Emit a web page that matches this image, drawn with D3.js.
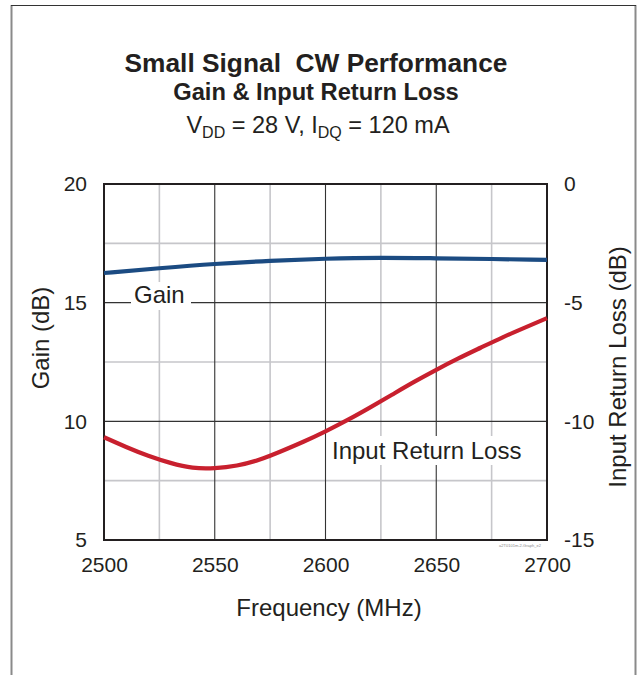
<!DOCTYPE html>
<html>
<head>
<meta charset="utf-8">
<script src="https://cdn.jsdelivr.net/npm/d3@7"></script>
<style>
  html, body { margin: 0; padding: 0; background: #fff; }
  svg { display: block; font-family: "Liberation Sans", Arial, sans-serif; }
</style>
</head>
<body>
<svg id="chart" width="639" height="675"></svg>
<script>
// Frequency sweep (MHz)
const gainFreq = [2500, 2525, 2550, 2575, 2600, 2625, 2650, 2675, 2700];
const gainDb   = [16.25, 16.45, 16.63, 16.76, 16.85, 16.89, 16.87, 16.84, 16.80];

const irlFreq = [2500, 2510, 2520, 2530, 2540, 2550, 2560, 2570, 2580, 2590, 2600,
                 2610, 2620, 2630, 2640, 2650, 2660, 2670, 2680, 2690, 2700];
const irlDb   = [-10.67, -11.08, -11.45, -11.75, -11.95, -11.97, -11.86, -11.62, -11.26, -10.86, -10.42,
                 -9.94, -9.42, -8.88, -8.34, -7.83, -7.35, -6.9, -6.46, -6.05, -5.65];

const xTicks = [2500, 2550, 2600, 2650, 2700];
const xMinor = [2525, 2575, 2625, 2675];
const gainTicks = [5, 10, 15, 20];
const gainMinor = [7.5, 12.5, 17.5];
const irlTicks = [0, -5, -10, -15];

const svg = d3.select("#chart");
const W = 639, H = 675;
const m = { left: 104, right: 547, top: 184, bottom: 540 };
const ink = "#231f20";

// Outer frame
svg.append("line").attr("x1", 11.5).attr("x2", 11.5).attr("y1", 5).attr("y2", H)
  .attr("stroke", "#8a8a8a").attr("stroke-width", 2);
svg.append("line").attr("x1", 635.5).attr("x2", 635.5).attr("y1", 5).attr("y2", H)
  .attr("stroke", "#8a8a8a").attr("stroke-width", 2);
svg.append("line").attr("x1", 11).attr("x2", 636).attr("y1", 5.5).attr("y2", 5.5)
  .attr("stroke", "#333").attr("stroke-width", 1);

const x = d3.scaleLinear().domain([2500, 2700]).range([m.left, m.right]);
const yG = d3.scaleLinear().domain([5, 20]).range([m.bottom, m.top]);
const yR = d3.scaleLinear().domain([-15, 0]).range([m.bottom, m.top]);

// Titles
const title = svg.append("g").attr("text-anchor", "middle").attr("fill", ink);
title.append("text").attr("x", 316).attr("y", 72)
  .style("white-space", "pre").attr("font-size", 26.3).attr("font-weight", "bold")
  .text("Small Signal  CW Performance");
title.append("text").attr("x", 316).attr("y", 100)
  .attr("font-size", 23.7).attr("font-weight", "bold")
  .text("Gain & Input Return Loss");
const t3 = title.append("text").attr("x", 318).attr("y", 133).attr("font-size", 23.5);
t3.append("tspan").text("V");
t3.append("tspan").attr("font-size", 16).attr("dy", 5).text("DD");
t3.append("tspan").attr("dy", -5).text(" = 28 V, I");
t3.append("tspan").attr("font-size", 16).attr("dy", 5).text("DQ");
t3.append("tspan").attr("dy", -5).text(" = 120 mA");

// Grid
const grid = svg.append("g");
grid.selectAll(".vmin").data(xMinor).join("line")
  .attr("x1", d => x(d)).attr("x2", d => x(d)).attr("y1", m.top).attr("y2", m.bottom)
  .attr("stroke", "#c6c6ca").attr("stroke-width", 1.6);
grid.selectAll(".hmin").data(gainMinor).join("line")
  .attr("x1", m.left).attr("x2", m.right).attr("y1", d => yG(d)).attr("y2", d => yG(d))
  .attr("stroke", "#c6c6ca").attr("stroke-width", 1.6);
grid.selectAll(".vmaj").data(xTicks.slice(1, -1)).join("line")
  .attr("x1", d => x(d)).attr("x2", d => x(d)).attr("y1", m.top).attr("y2", m.bottom)
  .attr("stroke", "#333").attr("stroke-width", 1.1);
grid.selectAll(".hmaj").data(gainTicks.slice(1, -1)).join("line")
  .attr("x1", m.left).attr("x2", m.right).attr("y1", d => yG(d)).attr("y2", d => yG(d))
  .attr("stroke", "#333").attr("stroke-width", 1.1);

// Series label backgrounds break the grid behind the text
const labelBg = svg.append("g").attr("fill", "#fff");
labelBg.append("rect").attr("x", 131).attr("y", 282).attr("width", 60).attr("height", 28);
labelBg.append("rect").attr("x", 329).attr("y", 436).attr("width", 197).attr("height", 29);

// Plot border
svg.append("rect").attr("x", m.left).attr("y", m.top)
  .attr("width", m.right - m.left).attr("height", m.bottom - m.top)
  .attr("fill", "none").attr("stroke", ink).attr("stroke-width", 2);

// Axes (labels only; the plot border draws the lines)
const axisFont = g => g.call(s => s.select(".domain").remove())
  .call(s => s.selectAll(".tick line").remove())
  .call(s => s.selectAll("text").attr("font-size", 21).attr("fill", ink)
    .attr("font-family", "Liberation Sans, Arial, sans-serif"));

svg.append("g").attr("transform", `translate(0,${m.bottom})`)
  .call(d3.axisBottom(x).tickValues(xTicks).tickFormat(d3.format("d")).tickSize(0).tickPadding(17))
  .call(axisFont);
svg.append("g").attr("transform", `translate(${m.left},0)`)
  .call(d3.axisLeft(yG).tickValues(gainTicks).tickSize(0).tickPadding(17))
  .call(axisFont);
svg.append("g").attr("transform", `translate(${m.right},0)`)
  .call(d3.axisRight(yR).tickValues(irlTicks).tickFormat(d => String(d)).tickSize(0).tickPadding(17))
  .call(axisFont);

// Axis titles
svg.append("text").attr("x", 329).attr("y", 616).attr("text-anchor", "middle")
  .attr("font-size", 24).attr("fill", ink).text("Frequency (MHz)");
svg.append("text").attr("transform", "translate(49,338) rotate(-90)").attr("text-anchor", "middle")
  .attr("font-size", 24).attr("fill", ink).text("Gain (dB)");
svg.append("text").attr("transform", "translate(626,367) rotate(-90)").attr("text-anchor", "middle")
  .attr("font-size", 24).attr("fill", ink).text("Input Return Loss (dB)");

// Curves
const gainLine = d3.line().x(d => x(d[0])).y(d => yG(d[1])).curve(d3.curveNatural);
const irlLine = d3.line().x(d => x(d[0])).y(d => yR(d[1])).curve(d3.curveNatural);

svg.append("path").datum(gainFreq.map((f, i) => [f, gainDb[i]]))
  .attr("d", gainLine).attr("fill", "none").attr("stroke", "#1b4b82").attr("stroke-width", 4.2);
svg.append("path").datum(irlFreq.map((f, i) => [f, irlDb[i]]))
  .attr("d", irlLine).attr("fill", "none").attr("stroke", "#c8202e").attr("stroke-width", 4.2);

// Series labels
svg.append("text").attr("x", 134).attr("y", 303).attr("font-size", 24).attr("fill", ink).text("Gain");
svg.append("text").attr("x", 332).attr("y", 459).attr("font-size", 24).attr("fill", ink).text("Input Return Loss");

// Figure reference tag
svg.append("text").attr("x", 520).attr("y", 547).attr("text-anchor", "middle")
  .attr("font-size", 4).attr("fill", "#888").text("a2T0101m-2-Graph_e2");
</script>
</body>
</html>
